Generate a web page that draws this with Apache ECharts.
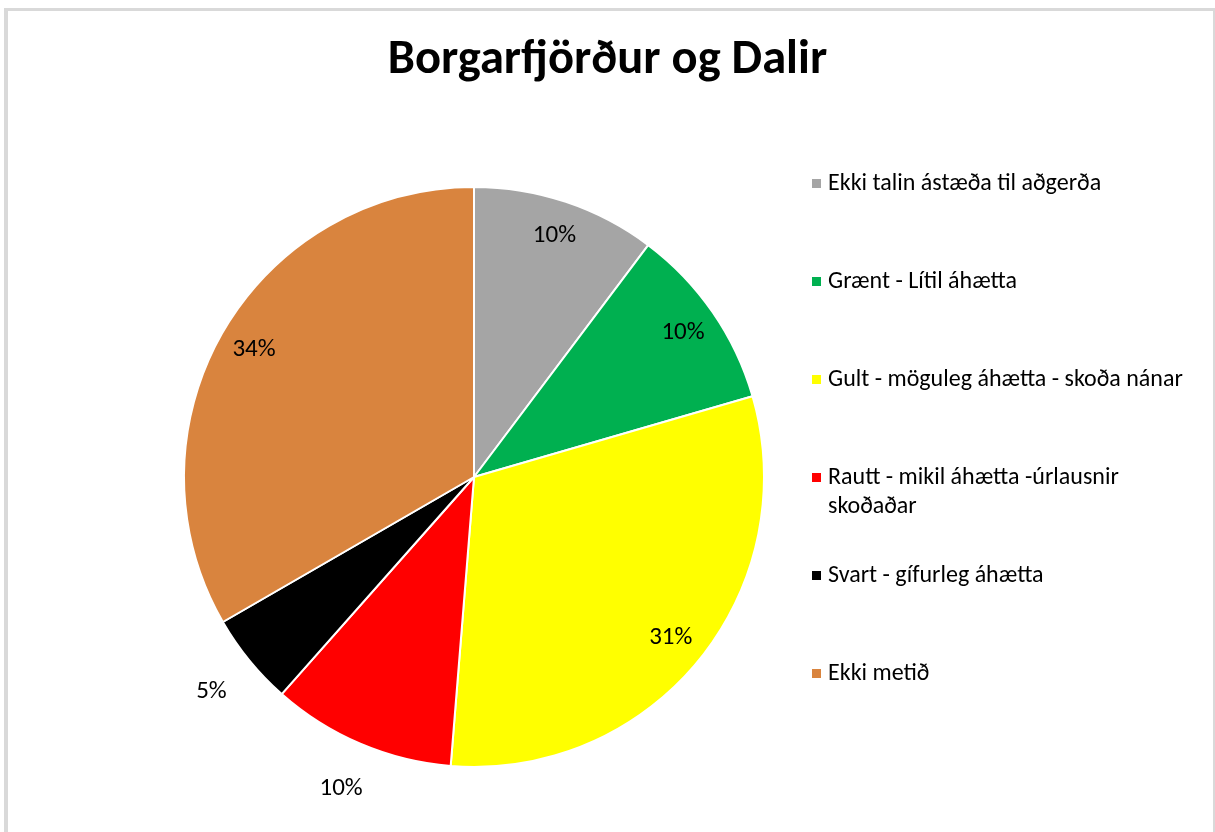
<!DOCTYPE html>
<html>
<head>
<meta charset="utf-8">
<title>Borgarfjörður og Dalir</title>
<script src="https://cdn.jsdelivr.net/npm/echarts@6/dist/echarts.min.js"></script>
<style>
  html, body { margin: 0; padding: 0; background: #fff; }
  #frame {
    position: absolute; left: 4px; top: 8px; width: 1205px; height: 830px;
    border-left: 4px solid #d9d9d9; border-top: 3px solid #d9d9d9; border-right: 3px solid #d9d9d9;
  }
  #chart { position: absolute; left: 0; top: 0; width: 1215px; height: 832px; }
</style>
</head>
<body>
<div id="frame"></div>
<div id="chart"></div>
<script>
  const titleText = 'Borgarfjörður og Dalir';
  const categories = [
    'Ekki talin ástæða til aðgerða',
    'Grænt - Lítil áhætta',
    'Gult - möguleg áhætta - skoða nánar',
    'Rautt - mikil áhætta -úrlausnir skoðaðar',
    'Svart - gífurleg áhætta',
    'Ekki metið',
  ];
  const counts = [4, 4, 12, 4, 2, 13];
  const pctLabels = ['10%', '10%', '31%', '10%', '5%', '34%'];
  const outsideLabel = [false, false, false, true, true, false];
  const colors = ['#a5a5a5', '#00b050', '#ffff00', '#ff0000', '#000000', '#d9843e'];

  const font = "Carlito, 'Liberation Sans', sans-serif";
  const center = [474, 477];

  // legend: every entry is 3 lines high so the icon sits on the middle (first text) line
  function legendText(name) {
    if (name === categories[3]) return '\nRautt - mikil áhætta -úrlausnir\nskoðaðar';
    return '\n' + name + '\n';
  }

  function labelData(showOutside) {
    return categories.map((name, i) => ({
      name,
      value: counts[i],
      label: { show: outsideLabel[i] === showOutside },
    }));
  }

  const labelStyle = {
    position: 'inside',
    color: '#000',
    fontFamily: font,
    fontSize: 25,
    formatter: (p) => pctLabels[p.dataIndex],
  };

  const chart = echarts.init(document.getElementById('chart'));
  chart.setOption({
    animation: false,
    color: colors,
    title: {
      text: titleText,
      left: 'center',
      top: 31,
      textStyle: { fontFamily: font, fontSize: 48.5, fontWeight: 'bold', color: '#000' },
    },
    legend: {
      orient: 'vertical',
      left: 805,
      top: 135,
      itemWidth: 11,
      itemHeight: 11,
      itemGap: 11,
      icon: 'rect',
      formatter: legendText,
      textStyle: { fontFamily: font, fontSize: 24, lineHeight: 29, color: '#000', padding: [0, 0, 0, 1] },
      data: categories,
    },
    series: [
      {
        type: 'pie',
        center,
        radius: 290,
        startAngle: 90,
        clockwise: true,
        silent: true,
        label: { show: false },
        labelLine: { show: false },
        itemStyle: { borderColor: '#fff', borderWidth: 2 },
        data: categories.map((name, i) => ({ name, value: counts[i] })),
      },
      {
        type: 'pie',
        center,
        radius: [212, 290],
        startAngle: 90,
        silent: true,
        itemStyle: { color: 'transparent' },
        label: labelStyle,
        labelLine: { show: false },
        data: labelData(false),
      },
      {
        type: 'pie',
        center,
        radius: [290, 382],
        startAngle: 90,
        silent: true,
        itemStyle: { color: 'transparent' },
        label: labelStyle,
        labelLine: { show: false },
        data: labelData(true),
      },
    ],
  });
</script>
</body>
</html>
